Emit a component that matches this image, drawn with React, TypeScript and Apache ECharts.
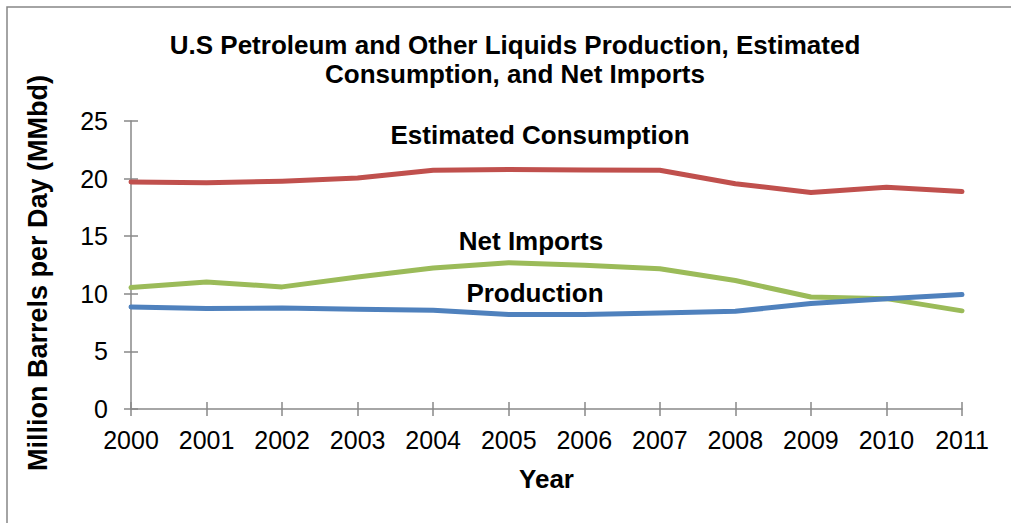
import React, { useEffect, useRef } from "react";
import * as echarts from "echarts";

const years = ["2000", "2001", "2002", "2003", "2004", "2005", "2006", "2007", "2008", "2009", "2010", "2011"];
const consumption = [19.7, 19.65, 19.78, 20.05, 20.72, 20.8, 20.75, 20.72, 19.55, 18.8, 19.25, 18.87];
const netImports = [10.54, 11.03, 10.6, 11.45, 12.24, 12.7, 12.47, 12.18, 11.15, 9.72, 9.58, 8.52];
const production = [8.85, 8.72, 8.77, 8.65, 8.57, 8.2, 8.2, 8.33, 8.48, 9.15, 9.58, 9.93];
const yTicks = { min: 0, max: 25, interval: 5 };

const titleLines = ["U.S Petroleum and Other Liquids Production, Estimated", "Consumption, and Net Imports"];
const seriesNames = ["Estimated Consumption", "Net Imports", "Production"];

const FONT = "'Liberation Sans', Arial, sans-serif";

export default function App() {
  const ref = useRef<HTMLDivElement>(null);
  useEffect(() => {
    if (!ref.current) return;
    const chart = echarts.init(ref.current, null, { renderer: "svg" });
    const axisGray = "#898989";
    const grid = { left: 131, right: 49, top: 121, bottom: 114 };
    const labelFont = `bold 26px ${FONT}`;
    chart.setOption({
      animation: false,
      backgroundColor: "#ffffff",
      textStyle: { fontFamily: FONT },
      grid,
      xAxis: [
        {
          type: "category",
          data: years,
          boundaryGap: false,
          axisLine: { lineStyle: { color: axisGray, width: 1.5 } },
          axisTick: { show: true, length: 7, lineStyle: { color: axisGray, width: 1.5 } },
          axisLabel: { color: "#000", fontSize: 25, fontFamily: FONT, margin: 18 },
          name: "Year",
          nameLocation: "middle",
          nameGap: 57,
          nameTextStyle: { color: "#000", fontSize: 26, fontWeight: "bold", fontFamily: FONT },
        },
        {
          type: "category",
          data: years,
          boundaryGap: false,
          position: "bottom",
          axisLine: { show: false },
          axisTick: { show: true, inside: true, length: 7, lineStyle: { color: axisGray, width: 1.5 } },
          axisLabel: { show: false },
        },
      ],
      yAxis: [
        {
          type: "value",
          min: yTicks.min,
          max: yTicks.max,
          interval: yTicks.interval,
          splitLine: { show: false },
          axisLine: { show: true, lineStyle: { color: axisGray, width: 1.5 } },
          axisTick: { show: true, length: 7, lineStyle: { color: axisGray, width: 1.5 } },
          axisLabel: { color: "#000", fontSize: 25, fontFamily: FONT, margin: 23 },
          name: "Million Barrels per Day (MMbd)",
          nameLocation: "middle",
          nameGap: 80,
          nameTextStyle: { color: "#000", fontSize: 27, fontWeight: "bold", fontFamily: FONT, padding: [0, 16, 0, 0] },
        },
        {
          type: "value",
          min: yTicks.min,
          max: yTicks.max,
          interval: yTicks.interval,
          position: "left",
          splitLine: { show: false },
          axisLine: { show: false },
          axisTick: { show: true, inside: true, length: 7, lineStyle: { color: axisGray, width: 1.5 } },
          axisLabel: { show: false },
        },
      ],
      series: [
        {
          name: seriesNames[0],
          type: "line",
          data: consumption,
          showSymbol: false,
          lineStyle: { color: "#C0504D", width: 5, cap: "round", join: "round" },
        },
        {
          name: seriesNames[1],
          type: "line",
          data: netImports,
          showSymbol: false,
          lineStyle: { color: "#9BBB59", width: 5, cap: "round", join: "round" },
        },
        {
          name: seriesNames[2],
          type: "line",
          data: production,
          showSymbol: false,
          lineStyle: { color: "#4F81BD", width: 5, cap: "round", join: "round" },
        },
      ],
      graphic: [
        {
          type: "rect",
          shape: { x: 7, y: 7, width: 1100, height: 600 },
          style: { fill: "none", stroke: "#868686", lineWidth: 1.5 },
          silent: true,
        },
        {
          type: "text",
          x: 515,
          y: 45,
          style: { text: titleLines[0], font: labelFont, fill: "#000", align: "center", verticalAlign: "middle" },
        },
        {
          type: "text",
          x: 515,
          y: 74,
          style: { text: titleLines[1], font: labelFont, fill: "#000", align: "center", verticalAlign: "middle" },
        },
        {
          type: "text",
          x: 540,
          y: 135,
          style: { text: seriesNames[0], font: labelFont, fill: "#000", align: "center", verticalAlign: "middle" },
        },
        {
          type: "text",
          x: 531,
          y: 241,
          style: { text: seriesNames[1], font: labelFont, fill: "#000", align: "center", verticalAlign: "middle" },
        },
        {
          type: "text",
          x: 535,
          y: 293,
          style: { text: seriesNames[2], font: labelFont, fill: "#000", align: "center", verticalAlign: "middle" },
        },
      ],
    });
    return () => chart.dispose();
  }, []);
  return (
    <div
      ref={ref}
      style={{ position: "fixed", left: 0, top: 0, width: 1011, height: 523, background: "#fff" }}
    />
  );
}
